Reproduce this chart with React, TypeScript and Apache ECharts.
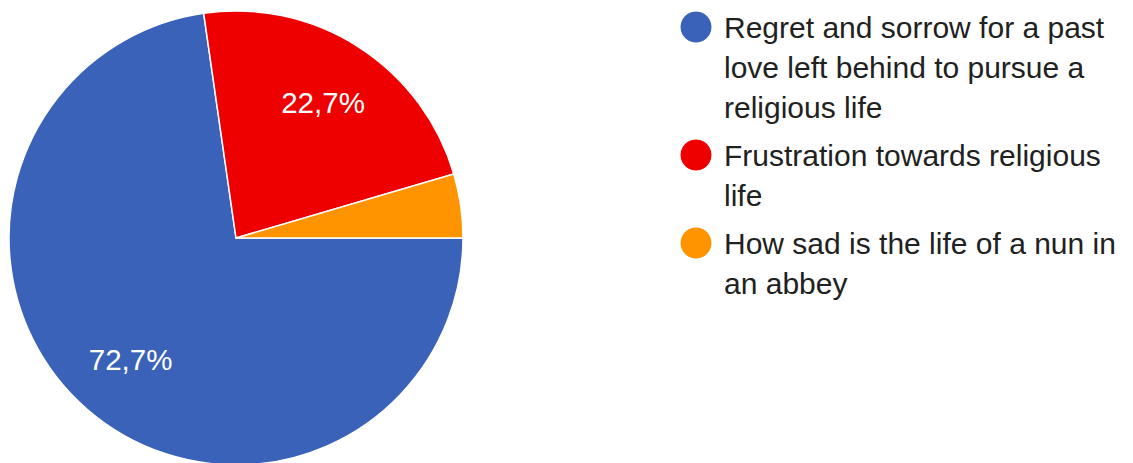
import React, { useEffect, useRef } from "react";
import * as echarts from "echarts";

const categories = [
  "Regret and sorrow for a past love left behind to pursue a religious life",
  "Frustration towards religious life",
  "How sad is the life of a nun in an abbey",
];
const legendLines = [
  ["Regret and sorrow for a past", "love left behind to pursue a", "religious life"],
  ["Frustration towards religious", "life"],
  ["How sad is the life of a nun in", "an abbey"],
];
const values = [16, 5, 1];
const colors = ["#3a62b8", "#ee0000", "#ff9400"];

const FONT = 'Arial, "Liberation Sans", Helvetica, sans-serif';

export default function App() {
  const ref = useRef<HTMLDivElement>(null);
  useEffect(() => {
    if (!ref.current) return;
    const chart = echarts.init(ref.current, undefined, { renderer: "svg" });
    const total = values.reduce((a, b) => a + b, 0);
    const LINE_H = 40;
    const option = {
      animation: false,
      color: colors,
      legend: {
        orient: "vertical",
        left: 680.5,
        top: -73,
        padding: 0,
        itemGap: -32,
        itemWidth: 46,
        itemHeight: 31,
        icon: "circle",
        selectedMode: false,
        itemStyle: { borderWidth: 0 },
        textStyle: {
          fontFamily: FONT,
          fontSize: 30,
          color: "#212121",
          lineHeight: LINE_H,
        },
        data: categories,
        formatter: (name: string) => {
          const lines = legendLines[categories.indexOf(name)];
          // pad with blank lines above so the first line sits level with the icon
          return "\n".repeat(lines.length - 1) + lines.join("\n");
        },
      },
      series: [
        {
          type: "pie",
          center: [236, 238],
          radius: [0, 227],
          startAngle: 0,
          clockwise: true,
          label: { show: false },
          labelLine: { show: false },
          emphasis: { disabled: true },
          itemStyle: { borderColor: "#ffffff", borderWidth: 1.5 },
          data: categories.map((name, i) => ({ name, value: values[i] })),
        },
        {
          type: "pie",
          center: [236, 238],
          radius: [0, 316],
          startAngle: 0,
          clockwise: true,
          silent: true,
          legendHoverLink: false,
          emphasis: { disabled: true },
          itemStyle: { color: "transparent", borderWidth: 0 },
          labelLine: { show: false },
          label: {
            show: true,
            position: "inside",
            color: "#ffffff",
            fontFamily: FONT,
            fontSize: 29.5,
            formatter: (p: any) => p.percent.toFixed(1).replace(".", ",") + "%",
          },
          data: categories.map((name, i) => ({
            name,
            value: values[i],
            label: { show: values[i] / total >= 0.05 },
          })),
        },
      ],
    };
    chart.setOption(option as any);
    return () => chart.dispose();
  }, []);
  return (
    <div
      ref={ref}
      style={{ position: "fixed", left: 0, top: 0, width: 1133, height: 463, background: "#ffffff" }}
    />
  );
}
